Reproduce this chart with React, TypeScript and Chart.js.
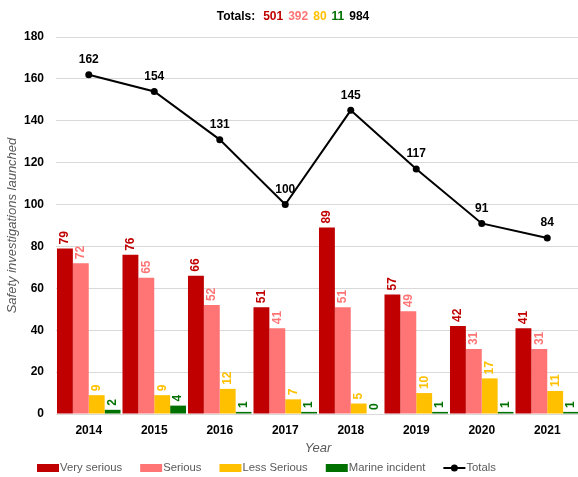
import React, { useEffect, useRef } from "react";
import { Chart, registerables } from "chart.js";

Chart.register(...registerables);

const years = ["2014", "2015", "2016", "2017", "2018", "2019", "2020", "2021"];
const verySerious = [79, 76, 66, 51, 89, 57, 42, 41];
const serious = [72, 65, 52, 41, 51, 49, 31, 31];
const lessSerious = [9, 9, 12, 7, 5, 10, 17, 11];
const marineIncident = [2, 4, 1, 1, 0, 1, 1, 1];
const totals = [162, 154, 131, 100, 145, 117, 91, 84];
const titleParts = [
  { text: "Totals:", color: "#000000" },
  { text: "501", color: "#c00000" },
  { text: "392", color: "#ff7575" },
  { text: "80", color: "#ffc000" },
  { text: "11", color: "#007000" },
  { text: "984", color: "#000000" },
];

const FONT = "'Liberation Sans', Arial, sans-serif";

const labelPlugin = {
  id: "valueLabels",
  afterDatasetsDraw(chart: any) {
    const ctx = chart.ctx;
    chart.data.datasets.forEach((ds: any, di: number) => {
      const meta = chart.getDatasetMeta(di);
      if (meta.hidden) return;
      meta.data.forEach((el: any, i: number) => {
        const v = ds.data[i];
        ctx.save();
        ctx.font = `bold 12px ${FONT}`;
        if (ds.type === "line") {
          ctx.fillStyle = "#000";
          ctx.textAlign = "center";
          ctx.textBaseline = "bottom";
          ctx.fillText(String(v), el.x, el.y - 9);
        } else {
          ctx.fillStyle = ds.labelColor;
          ctx.translate(el.x, el.y - 4);
          ctx.rotate(-Math.PI / 2);
          ctx.textAlign = "left";
          ctx.textBaseline = "middle";
          ctx.fillText(String(v), 0, 0);
        }
        ctx.restore();
      });
    });
  },
};

const titlePlugin = {
  id: "multiTitle",
  afterDraw(chart: any) {
    const ctx = chart.ctx;
    ctx.save();
    ctx.font = `bold 12px ${FONT}`;
    ctx.textBaseline = "middle";
    ctx.textAlign = "left";
    const gap = 5;
    const widths = titleParts.map((p) => ctx.measureText(p.text).width);
    const total = widths.reduce((a, b) => a + b, 0) + gap * (widths.length - 1) + 3;
    let x = 293 - total / 2;
    titleParts.forEach((p, i) => {
      ctx.fillStyle = p.color;
      ctx.fillText(p.text, x, 17);
      x += widths[i] + gap + (i === 0 ? 3 : 0);
    });
    ctx.restore();
  },
};

const legendPlugin = {
  id: "customLegend",
  afterDraw(chart: any) {
    const ctx = chart.ctx;
    ctx.save();
    ctx.font = `11.3px ${FONT}`;
    ctx.textBaseline = "middle";
    ctx.textAlign = "left";
    const y = 468;
    let x = 37;
    chart.data.datasets.forEach((ds: any) => {
      if (ds.type === "line") {
        ctx.strokeStyle = ds.borderColor;
        ctx.lineWidth = 2;
        ctx.beginPath();
        ctx.moveTo(x, y);
        ctx.lineTo(x + 22, y);
        ctx.stroke();
        ctx.fillStyle = ds.borderColor;
        ctx.beginPath();
        ctx.arc(x + 11, y, 3.5, 0, Math.PI * 2);
        ctx.fill();
      } else {
        ctx.fillStyle = ds.backgroundColor;
        ctx.fillRect(x, y - 4, 22, 8);
      }
      ctx.fillStyle = "#595959";
      ctx.fillText(ds.label, x + 23, y);
      x += 23 + ctx.measureText(ds.label).width + 18;
    });
    ctx.restore();
  },
};

export default function App() {
  const ref = useRef<HTMLCanvasElement | null>(null);
  useEffect(() => {
    document.body.style.margin = "0";
    document.body.style.overflow = "hidden";
    const barBase = {
      type: "bar" as const,
      categoryPercentage: 0.97,
      barPercentage: 1,
      order: 2,
    };
    const chart = new Chart(ref.current!, {
      type: "bar",
      data: {
        labels: years,
        datasets: [
          { ...barBase, label: "Very serious", data: verySerious, backgroundColor: "#c00000", labelColor: "#c00000" } as any,
          { ...barBase, label: "Serious", data: serious, backgroundColor: "#ff7575", labelColor: "#ff7575" } as any,
          { ...barBase, label: "Less Serious", data: lessSerious, backgroundColor: "#ffc000", labelColor: "#ffc000" } as any,
          { ...barBase, label: "Marine incident", data: marineIncident, backgroundColor: "#007000", labelColor: "#007000" } as any,
          {
            type: "line",
            label: "Totals",
            data: totals,
            borderColor: "#000000",
            backgroundColor: "#000000",
            borderWidth: 2,
            pointRadius: 3.5,
            pointBackgroundColor: "#000",
            pointBorderWidth: 0,
            tension: 0,
            order: 1,
          } as any,
        ],
      },
      options: {
        animation: false,
        responsive: false,
        maintainAspectRatio: false,
        layout: { padding: { top: 37, right: 1, left: 5, bottom: 21 } },
        plugins: {
          title: { display: false },
          tooltip: { enabled: false },
          legend: { display: false },
        },
        scales: {
          x: {
            grid: { display: false },
            border: { color: "#d9d9d9" },
            ticks: { color: "#000", padding: 1, font: { family: FONT, size: 12, weight: "bold" } },
            title: {
              display: true,
              text: "Year",
              color: "#595959",
              font: { family: FONT, size: 13, style: "italic" },
              padding: { top: 2, bottom: 0 },
            },
          },
          y: {
            min: 0,
            max: 180,
            afterFit: (scale: any) => {
              scale.width = 51;
            },
            ticks: { stepSize: 20, color: "#000", padding: 12, font: { family: FONT, size: 12, weight: "bold" } },
            grid: { color: "#d9d9d9", drawTicks: false },
            border: { display: false },
            title: {
              display: true,
              text: "Safety investigations launched",
              color: "#595959",
              font: { family: FONT, size: 13, style: "italic" },
              padding: { top: 0, bottom: 4 },
            },
          },
        },
      } as any,
      plugins: [labelPlugin, titlePlugin, legendPlugin],
    });
    return () => chart.destroy();
  }, []);
  return (
    <div style={{ width: 578, height: 477, overflow: "hidden" }}>
      <canvas ref={ref} width={584} height={477} style={{ display: "block" }} />
    </div>
  );
}
